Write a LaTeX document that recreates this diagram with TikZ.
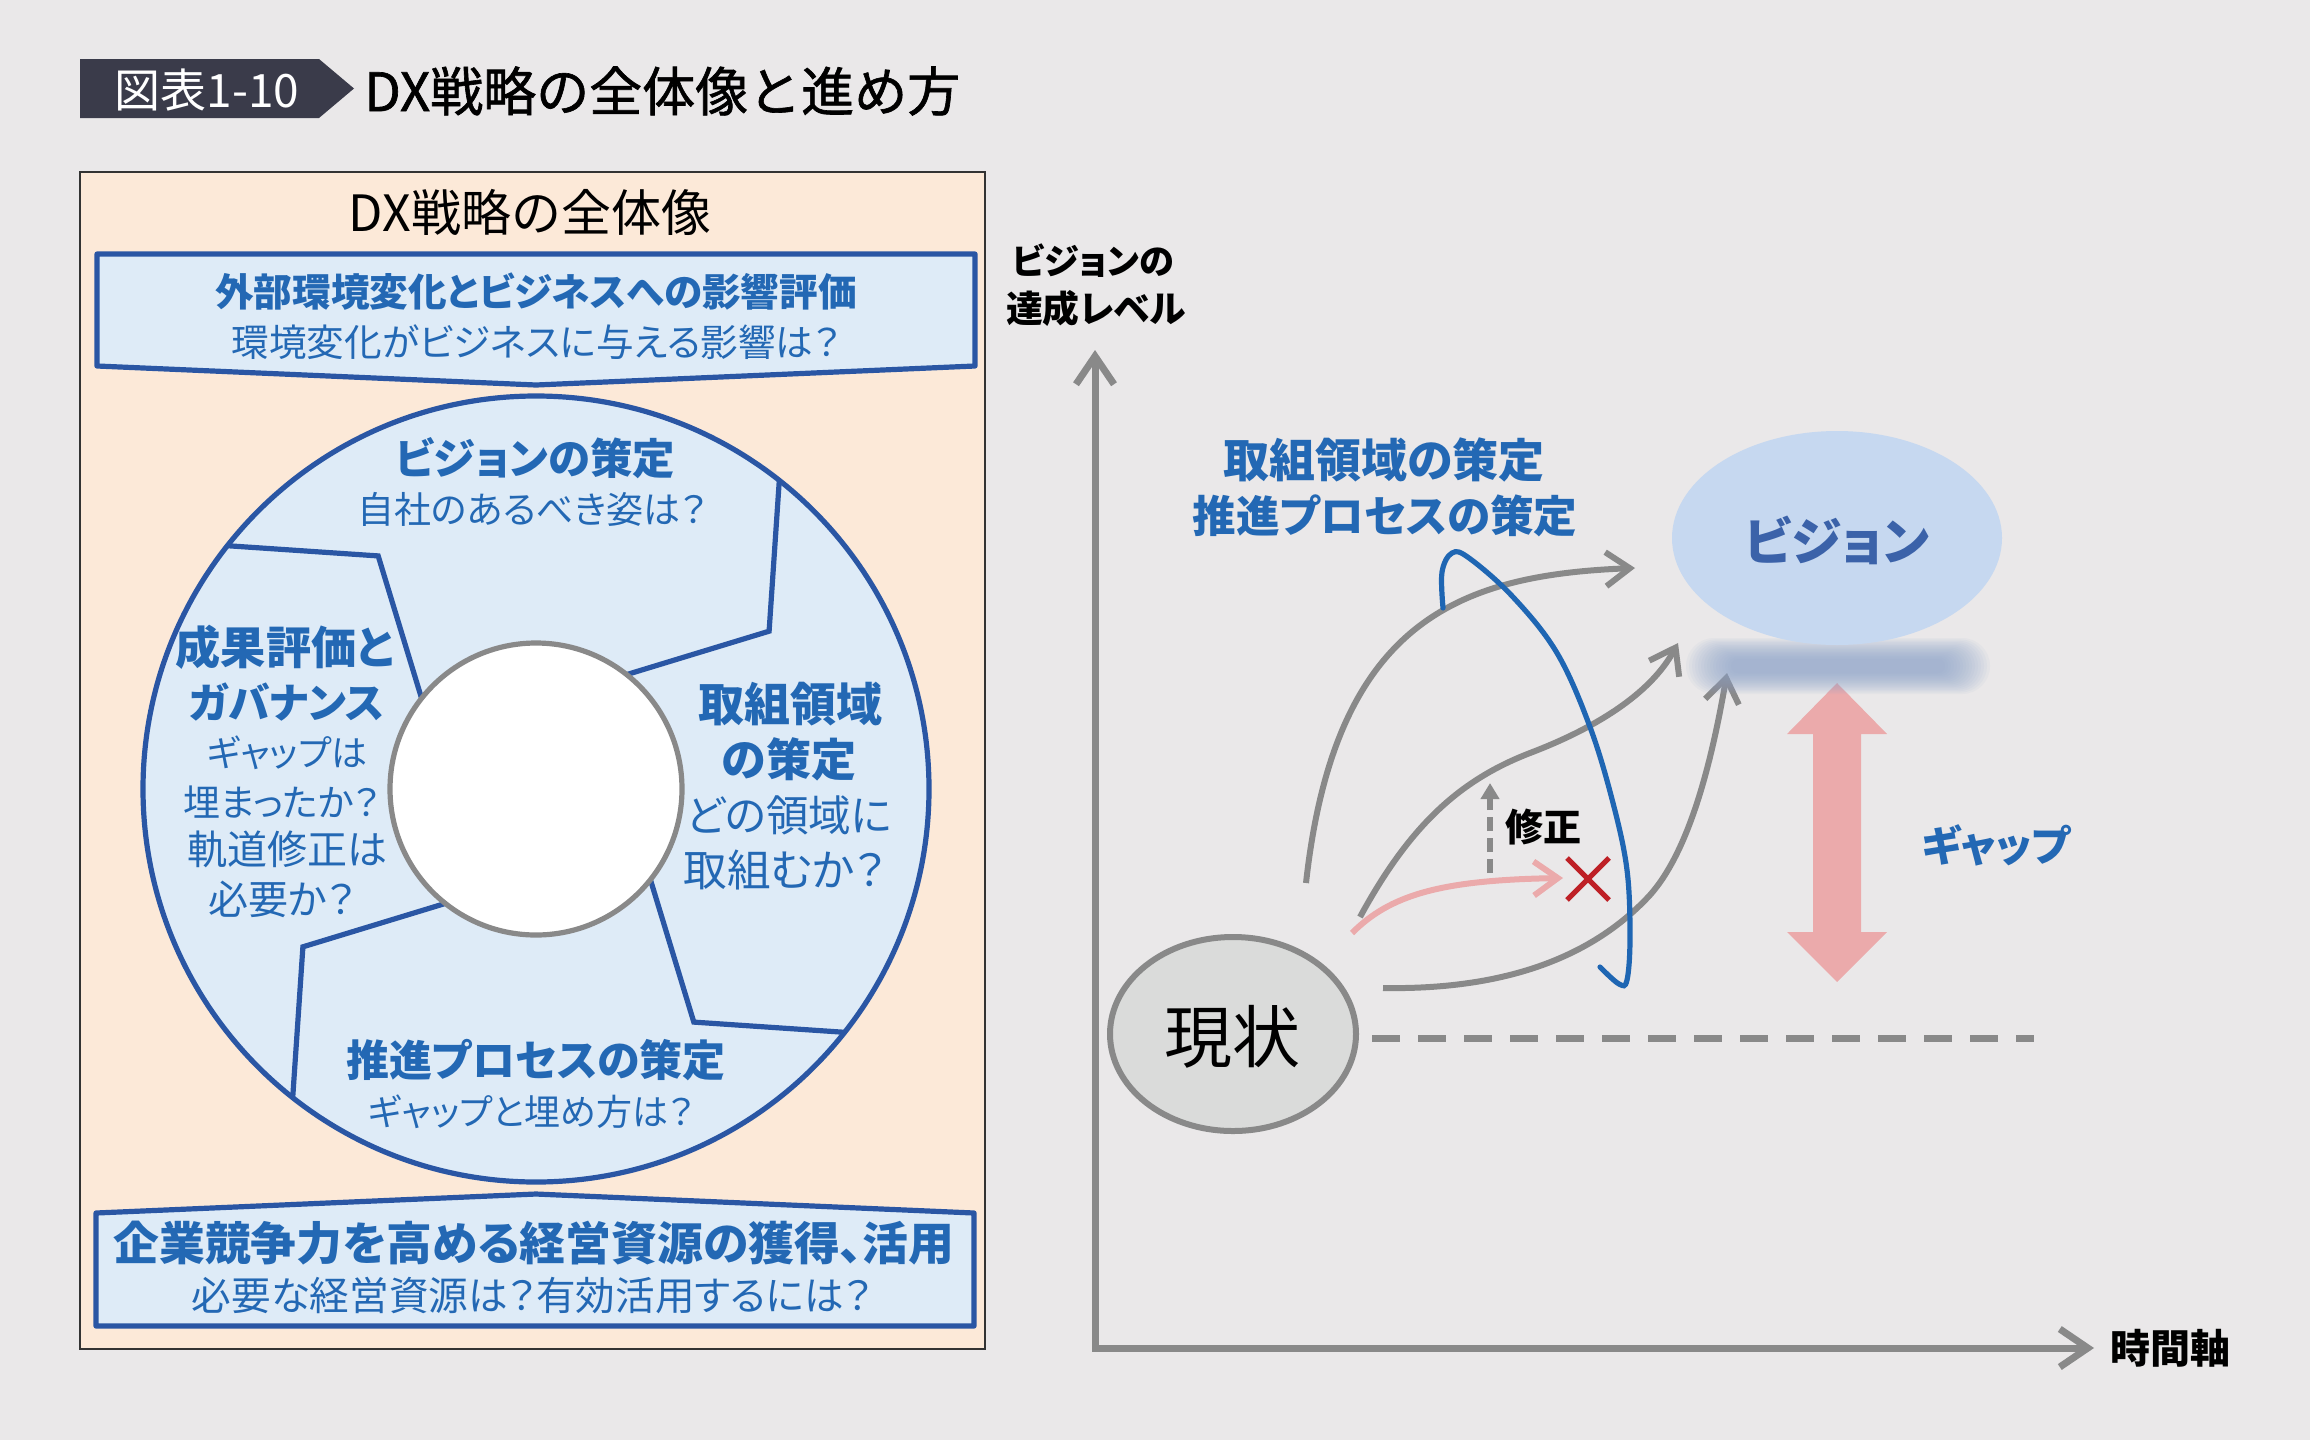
\documentclass[tikz,border=0pt]{standalone}
\usepackage{fontspec}
\setmainfont{Noto Sans CJK JP}
\newfontfamily\jp[RawFeature=+palt]{Noto Sans CJK JP}
\newfontfamily\jpt[FakeBold=1.2]{Noto Sans CJK JP}
\usetikzlibrary{arrows.meta,shapes.geometric,calc}
\definecolor{bg}{HTML}{EAE8E9}
\definecolor{peach}{HTML}{FCE9D8}
\definecolor{tagc}{HTML}{3A3B4A}
\definecolor{bborder}{HTML}{2A56A4}
\definecolor{lblue}{HTML}{DEEBF7}
\definecolor{blueT}{HTML}{2368B4}
\definecolor{grayL}{HTML}{898989}
\definecolor{pinkc}{HTML}{EBAAAB}
\definecolor{redx}{HTML}{BE2026}
\definecolor{loopc}{HTML}{1F66B3}
\definecolor{visfill}{HTML}{C6D8F0}
\definecolor{vistext}{HTML}{3B62A9}
\definecolor{shadowc}{HTML}{8DA4CB}
\definecolor{genfill}{HTML}{DADBDA}
\tikzset{
  hb/.style={text=blueT, inner sep=0pt, font=\jp\bfseries\fontsize{#1}{#1}\selectfont},
  hr/.style={text=blueT, inner sep=0pt, font=\jp\fontsize{#1}{#1}\selectfont},
  kb/.style={text=black, inner sep=0pt, font=\jp\bfseries\fontsize{#1}{#1}\selectfont},
  kr/.style={text=black, inner sep=0pt, font=\jp\fontsize{#1}{#1}\selectfont},
  divline/.style={draw=bborder, line width=2.6pt, line join=miter},
  garrow/.style={draw=grayL, line width=3pt, -{Straight Barb[length=12pt,width=17pt]}},
  axisline/.style={draw=grayL, line width=3.5pt, {Straight Barb[length=14pt,width=19pt]}-{Straight Barb[length=14pt,width=19pt]}},
}
\begin{document}
\begin{tikzpicture}[x=0.5pt,y=-0.5pt]
\useasboundingbox (0,0) rectangle (2310,1440);
\fill[bg] (0,0) rectangle (2310,1440);
% title
\fill[tagc] (80,59) -- (319,59) -- (354,88.5) -- (319,118) -- (80,118) -- cycle;
\node[text=white, inner sep=0pt, font=\fontsize{23}{23}\selectfont] (tag) at (207,90) {図表1-10};
\node[anchor=west, inner sep=0pt, font=\jpt\fontsize{26.5}{26.5}\selectfont] (title) at (364,91) {DX戦略の全体像と進め方};
% left panel
\fill[peach, draw=black!80, line width=1pt] (80,172) rectangle (985,1349);
\node[inner sep=0pt, font=\fontsize{25}{25}\selectfont] (ptitle) at (530,212) {DX戦略の全体像};
% top box
\filldraw[fill=lblue, draw=bborder, line width=2.6pt, line join=round] (97,254) -- (975,254) -- (975,366) -- (536,385) -- (97,366) -- cycle;
\node[hb=19.3] (tb1) at (536,292) {外部環境変化とビジネスへの影響評価};
\node[hr=18.8] (tb2) at (536,342) {環境変化がビジネスに与える影響は？};
% bottom box
\filldraw[fill=lblue, draw=bborder, line width=2.6pt, line join=round] (96,1213) -- (536,1194) -- (974,1213) -- (974,1326) -- (96,1326) -- cycle;
\node[hb=22.9] (bb1) at (534,1243) {企業競争力を高める経営資源の獲得、活用};
\node[hr=19.8] (bb2) at (532,1295) {必要な経営資源は？有効活用するには？};
% circle
\coordinate (C) at (536,789);
\fill[lblue] (C) circle (196.5pt);
\foreach \k in {0,90,180,270}{
  \draw[divline] ($(C)+(-51.6+\k:146)$) -- ($(C)+(-34.1+\k:281.5)$) -- ($(C)+(-51.75+\k:393)$);
}
\draw[bborder, line width=2.6pt] (C) circle (196.5pt);
\filldraw[fill=white, draw=grayL, line width=2.6pt] (C) circle (73pt);
% circle texts
\node[hb=21.2] (v1) at (535,458) {ビジョンの策定};
\node[hr=18.5] (v2) at (532,509) {自社のあるべき姿は？};
\node[hb=22.6] (l1) at (285,647) {成果評価と};
\node[hb=20.8] (l2) at (287,702) {ガバナンス};
\node[hr=18] (l3) at (287,753) {ギャップは};
\node[hr=18.5] (l4) at (282,802) {埋まったか？};
\node[hr=20] (l5) at (287,849) {軌道修正は};
\node[hr=20] (l6) at (282,899) {必要か？};
\node[hb=23] (r1) at (790,704) {取組領域};
\node[hb=22.5] (r2) at (789,759) {の策定};
\node[hr=21.3] (r3) at (789,815) {どの領域に};
\node[hr=21.8] (r4) at (785,870) {取組むか？};
\node[hb=21.5] (s1) at (536,1060) {推進プロセスの策定};
\node[hr=18] (s2) at (531,1112) {ギャップと埋め方は？};
% right chart
\coordinate (O) at (1095,1348);
\coordinate (ytip) at (1095,350);
\coordinate (xtip) at (2094,1348);
\draw[axisline] (ytip) -- (O) -- (xtip);
\node[kb=17.6] (ylab1) at (1093,261) {ビジョンの};
\node[kb=18.4] (ylab2) at (1096,308) {達成レベル};
\node[kb=20] (xlab) at (2170,1348) {時間軸};
% current state
\node[ellipse, fill=genfill, draw=grayL, line width=3pt, minimum width=123pt, minimum height=97pt, inner sep=0pt] (gen) at (1233,1034) {};
\node[kr=34] (gent) at (1232,1037) {現状};
\coordinate (dashend) at (2034,1038);
\draw[grayL, line width=3.5pt, dash pattern=on 14pt off 9pt] ([xshift=6.5pt]gen.east |- 0,1038) -- (dashend);
% gap arrow
\fill[pinkc] (1837,683) -- (1887,734) -- (1861,734) -- (1861,932) -- (1887,932) -- (1837,982) -- (1787,932) -- (1813,932) -- (1813,734) -- (1787,734) -- cycle;
\node[hb=21] (gapt) at (1996,845) {ギャップ};
% labels
\node[hb=23] (lab1) at (1384,460) {取組領域の策定};
\node[hb=21.8] (lab2) at (1385,516) {推進プロセスの策定};
% gray curves
\draw[garrow] (1306,883) .. controls (1335,620) and (1460,575) .. (1635,568);
\draw[garrow] (1360,917) .. controls (1410,825) and (1460,780) .. (1530,753) .. controls (1593,729) and (1650,695) .. (1678,643);
\draw[garrow] (1383,988) .. controls (1500,990) and (1590,960) .. (1650,895) .. controls (1690,850) and (1712,760) .. (1727,673);
% shadow under vision
\foreach \i in {0,...,15}{
  \pgfmathsetmacro\hw{152-3*\i}
  \pgfmathsetmacro\hh{28-1.4*\i}
  \pgfmathsetmacro\rc{\hh*0.5}
  \fill[shadowc, opacity=0.07, rounded corners=\rc pt] (1838-\hw,666-\hh) rectangle (1838+\hw,666+\hh);
}
% vision
\node[ellipse, fill=visfill, minimum width=165pt, minimum height=107pt, inner sep=0pt] (vis) at (1837,538) {};
\node[text=vistext, inner sep=0pt, font=\jp\bfseries\fontsize{25.5}{25.5}\selectfont] (vist) at (1837,540) {ビジョン};
% pink
\draw[pinkc, line width=3pt, -{Straight Barb[length=12pt,width=17pt]}] (1352,933) .. controls (1390,895) and (1440,880) .. (1563,878);
% red x
\coordinate (X) at (1588,879);
\draw[redx, line width=2.6pt] ($(X)+(-21,-21)$) -- ($(X)+(21,21)$) ($(X)+(21,-21)$) -- ($(X)+(-21,21)$);
% dashed correction arrow
\draw[grayL, line width=3pt, dash pattern=on 7pt off 3.5pt, -{Triangle[length=8pt,width=9pt]}] (1490,873) -- (1490,783);
\node[kb=19] (corr) at (1543,827) {修正};
% blue loop
\draw[loopc, line width=2.6pt, line cap=round] plot[smooth, tension=0.6] coordinates {(1443,608) (1442,572) (1452,553) (1469,558) (1513,597) (1557,653) (1590,727) (1613,803) (1627,870) (1630,937) (1627,980) (1619,984) (1600,967)};
\end{tikzpicture}
\end{document}
